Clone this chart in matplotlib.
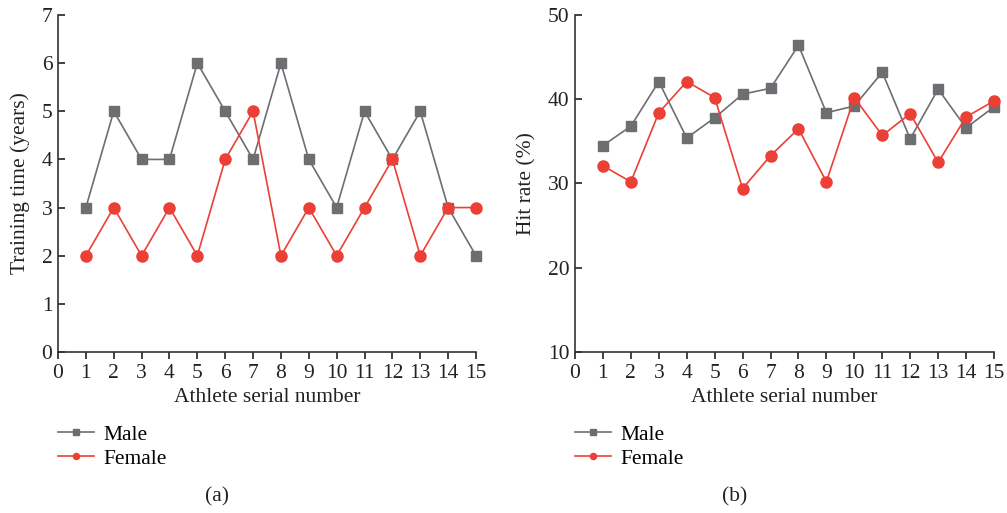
import matplotlib.pyplot as plt

athletes = list(range(1, 16))

# panel (a): training time in years
male_years = [3, 5, 4, 4, 6, 5, 4, 6, 4, 3, 5, 4, 5, 3, 2]
female_years = [2, 3, 2, 3, 2, 4, 5, 2, 3, 2, 3, 4, 2, 3, 3]

# panel (b): hit rate in percent
male_hit = [34.5, 36.8, 42.1, 35.4, 37.8, 40.6, 41.3, 46.4, 38.4, 39.2, 43.2, 35.3, 41.2, 36.6, 39.1]
female_hit = [32.1, 30.2, 38.4, 42.1, 40.2, 29.4, 33.3, 36.5, 30.2, 40.2, 35.7, 38.3, 32.5, 37.9, 39.8]

male_color = '#6d6e71'
female_color = '#ec3f35'

plt.rcParams['font.family'] = ['Liberation Serif', 'DejaVu Serif']
plt.rcParams['font.size'] = 15.5

fig = plt.figure(figsize=(10.07, 5.13), dpi=100)
W, H = 1007.0, 513.0
ax_a = fig.add_axes([58 / W, 1 - 352 / H, (476 - 58) / W, (352 - 15) / H])
ax_b = fig.add_axes([575 / W, 1 - 352 / H, (994 - 575) / W, (352 - 15) / H])


def style(ax, ylim, yticks, ylabel, caption):
    ax.set_xlim(0, 15)
    ax.set_ylim(*ylim)
    ax.set_xticks(range(0, 16))
    ax.set_yticks(yticks)
    ax.spines['top'].set_visible(False)
    ax.spines['right'].set_visible(False)
    for s in ('left', 'bottom'):
        ax.spines[s].set_color('#333333')
        ax.spines[s].set_linewidth(1.2)
    ax.tick_params(axis='y', direction='in', length=5, width=1.2, pad=4, colors='#222222')
    ax.tick_params(axis='x', direction='out', length=5, width=1.2, pad=4, colors='#222222')
    ax.set_xlabel('Athlete serial number', labelpad=3, color='#222222')
    ax.set_ylabel(ylabel, labelpad=8, color='#222222')
    ax.legend(loc='upper left', bbox_to_anchor=(0.0, -0.215), frameon=False,
              handlelength=1.65, handletextpad=0.45, labelspacing=0.2,
              markerscale=0.55, borderaxespad=0, borderpad=0)
    ax.text(0.38, -0.43, caption, transform=ax.transAxes, ha='center', va='center',
            color='#222222')


for ax, m, f in ((ax_a, male_years, female_years), (ax_b, male_hit, female_hit)):
    ax.plot(athletes, m, color=male_color, lw=1.2, marker='s', ms=7,
            label='Male', clip_on=False, zorder=3)
    ax.plot(athletes, f, color=female_color, lw=1.2, marker='o', ms=8,
            label='Female', clip_on=False, zorder=3)

style(ax_a, (0, 7), range(0, 8), 'Training time (years)', '(a)')
style(ax_b, (10, 50), range(10, 51, 10), 'Hit rate (%)', '(b)')

fig.savefig('out.png', dpi=100)
